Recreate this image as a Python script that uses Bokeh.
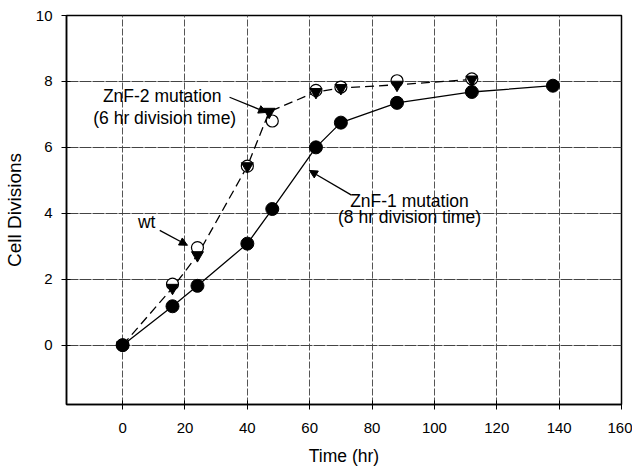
from bokeh.plotting import figure
from bokeh.models import Range1d, Label, Arrow, NormalHead, FixedTicker
from bokeh.embed import file_html
from bokeh.resources import INLINE

# ---- data ----
znf1_t = [0, 16, 24, 40, 48, 62, 70, 88, 112, 138]
znf1_y = [0, 1.18, 1.8, 3.08, 4.13, 6.0, 6.75, 7.35, 7.68, 7.87]

znf2_t = [0, 16, 24, 40, 47, 62, 70, 88, 112]
znf2_y = [0, 1.74, 2.73, 5.43, 7.08, 7.68, 7.8, 7.9, 8.06]

wt_t = [0, 16, 24, 40, 48, 62, 70, 88, 112]
wt_y = [0, 1.85, 2.96, 5.43, 6.8, 7.73, 7.83, 8.02, 8.08]

x_ticks = [0, 20, 40, 60, 80, 100, 120, 140, 160]
y_ticks = [0, 2, 4, 6, 8, 10]

FONT = "Liberation Sans"

p = figure(width=632, height=468, output_backend="svg", toolbar_location=None,
           x_range=Range1d(-18, 160), y_range=Range1d(-1.8, 10),
           min_border_left=59, min_border_top=15, min_border_right=11, min_border_bottom=10)

p.outline_line_color = "black"
p.outline_line_width = 1.5

# axes
for ax in (p.xaxis[0], p.yaxis[0]):
    ax.axis_line_color = "black"
    ax.axis_line_width = 1.5
    ax.major_tick_line_color = "black"
    ax.major_tick_in = 4
    ax.major_tick_out = 5
    ax.minor_tick_line_color = None
    ax.major_label_text_font = FONT
    ax.major_label_text_font_size = "15px"
    ax.major_label_text_color = "black"
    ax.axis_label_text_font = FONT
    ax.axis_label_text_font_style = "normal"
    ax.axis_label_text_color = "black"

p.xaxis.axis_label_text_font_size = "17.5px"
p.yaxis.axis_label_text_font_size = "19px"
p.xaxis.ticker = FixedTicker(ticks=x_ticks)
p.yaxis.ticker = FixedTicker(ticks=y_ticks)
p.xaxis.axis_label = "Time (hr)"
p.yaxis.axis_label = "Cell Divisions"
p.xaxis.major_label_standoff = 13
p.yaxis.major_label_standoff = 9
p.xaxis.axis_label_standoff = 10
p.yaxis.axis_label_standoff = 8

# grid
p.xgrid.grid_line_color = "#555555"
p.xgrid.grid_line_dash = "7 2"
p.xgrid.grid_line_width = 1
p.ygrid.grid_line_color = "#444444"
p.ygrid.grid_line_dash = "12 1"
p.ygrid.grid_line_width = 1

# lines
p.line(znf1_t, znf1_y, line_color="black", line_width=1.3)
p.line(znf2_t, znf2_y, line_color="black", line_width=1.3, line_dash="9 5")

# markers
p.scatter(wt_t, wt_y, marker="circle", size=12, fill_color="white",
          line_color="black", line_width=1.2)
p.scatter(znf2_t, znf2_y, marker="inverted_triangle", size=12, fill_color="black",
          line_color="black")
p.scatter(znf1_t, znf1_y, marker="circle", size=13, fill_color="black",
          line_color="black")

# annotations
def lab(x, y, t):
    p.add_layout(Label(x=x, y=y, text=t, text_font=FONT, text_font_size="17.5px",
                       text_align="center", text_baseline="middle", text_color="black"))

lab(12.7, 7.55, "ZnF-2 mutation")
lab(13.5, 6.88, "(6 hr division time)")
lab(7.7, 3.73, "wt")
lab(92, 4.36, "ZnF-1 mutation")
lab(92, 3.9, "(8 hr division time)")

def arr(x0, y0, x1, y1):
    p.add_layout(Arrow(x_start=x0, y_start=y0, x_end=x1, y_end=y1,
                       line_color="black", line_width=1.3,
                       end=NormalHead(size=8, fill_color="black", line_color="black")))

arr(34.3, 7.52, 46.2, 7.06)
arr(11.9, 3.48, 20.8, 3.03)
arr(73.4, 4.55, 59.9, 5.3)

open("out.html", "w").write(file_html(p, INLINE))
